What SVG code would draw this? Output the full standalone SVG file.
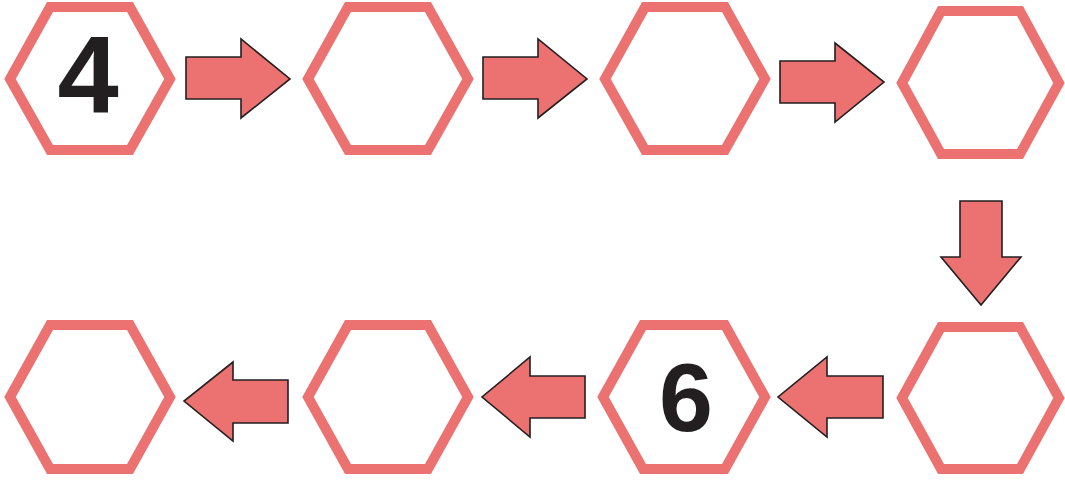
<svg xmlns="http://www.w3.org/2000/svg" width="1065" height="484" viewBox="0 0 1065 484">
<style>
.hex{fill:#fff;stroke:#ec7171;stroke-width:10;stroke-linejoin:miter}
.arr{fill:#ec7171;stroke:#231f20;stroke-width:1.6;stroke-linejoin:miter}
.num{font-family:"Liberation Sans",Arial,sans-serif;font-weight:bold;fill:#231f20;text-anchor:middle}
</style>
<rect width="1065" height="484" fill="#fff"/>
<g id="node1"><polygon class="hex" points="10,79 50,7 130,7 170,79 130,150 50,150"/><text class="num" x="88" y="112" font-size="110">4</text></g>
<g id="node2"><polygon class="hex" points="308,79 348,7 428,7 468,79 428,150 348,150"/></g>
<g id="node3"><polygon class="hex" points="605,79 645,7 725,7 765,79 725,150 645,150"/></g>
<g id="node4"><polygon class="hex" points="902,83 941,11 1020,11 1059,83 1020,154 941,154"/></g>
<g id="node5"><polygon class="hex" points="902,398 941,327 1020,327 1059,398 1020,469 941,469"/></g>
<g id="node6"><polygon class="hex" points="603,397 643,325 725,325 765,397 725,469 643,469"/><text class="num" x="686" y="431" font-size="97">6</text></g>
<g id="node7"><polygon class="hex" points="308,397 348,325 428,325 468,397 428,469 348,469"/></g>
<g id="node8"><polygon class="hex" points="10,397 50,325 130,325 170,397 130,469 50,469"/></g>
<g id="connectors">
<polygon class="arr" points="186,57 241,57 241,39 290,79 241,118 241,99 186,99"/>
<polygon class="arr" points="483,57 538,57 538,39 587,79 538,118 538,99 483,99"/>
<polygon class="arr" points="780,61 835,61 835,43 884,82 835,122 835,103 780,103"/>
<polygon class="arr" points="960,201 1002,201 1002,257 1021,257 981,305 941,257 960,257"/>
<polygon class="arr" points="883,376 883,418 827,418 827,437 778,397 827,357 827,376"/>
<polygon class="arr" points="585,376 585,418 530,418 530,437 482,397 530,357 530,376"/>
<polygon class="arr" points="288,380 288,423 233,423 233,441 184,401 233,362 233,380"/>
</g>
</svg>
